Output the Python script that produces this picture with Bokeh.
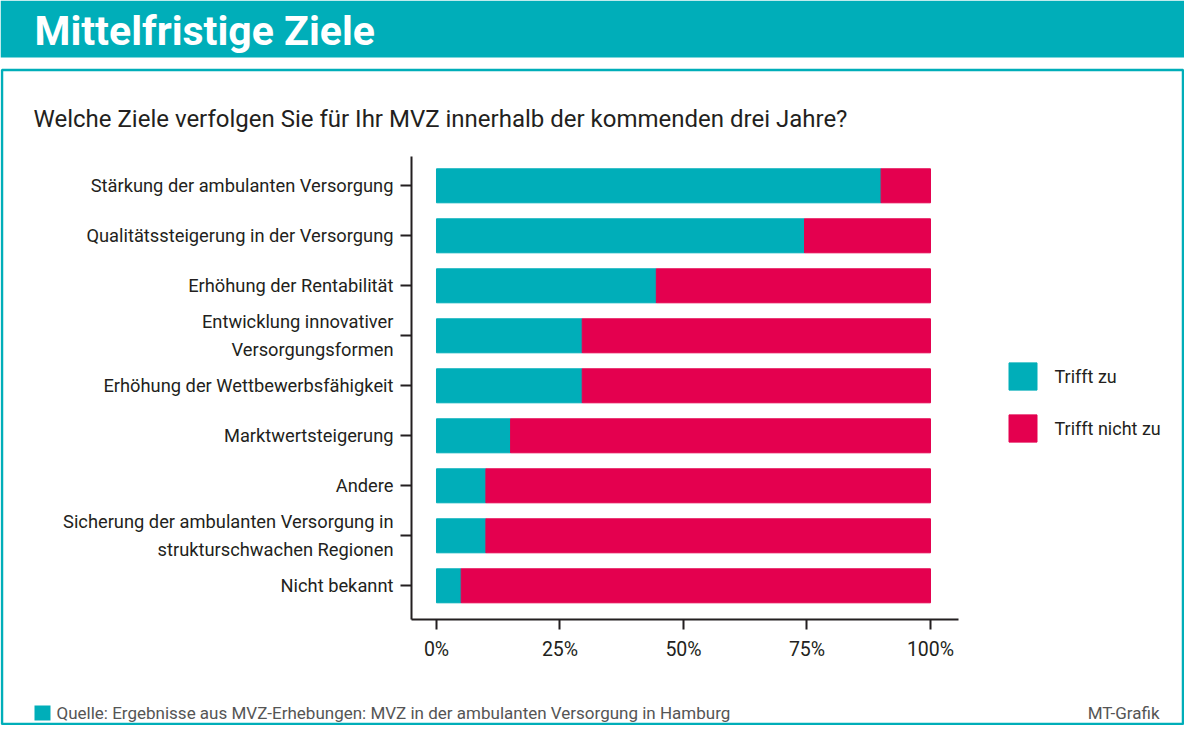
from bokeh.plotting import figure
from bokeh.models import (ColumnDataSource, Range1d, FixedTicker, LinearAxis,
                          NumeralTickFormatter, Legend, LegendItem, BoxAnnotation, Label)
from bokeh.embed import file_html
from bokeh.resources import INLINE

# ---- data ----
categories = [
    "Stärkung der ambulanten Versorgung",
    "Qualitätssteigerung in der Versorgung",
    "Erhöhung der Rentabilität",
    "Entwicklung innovativer\nVersorgungsformen",
    "Erhöhung der Wettbewerbsfähigkeit",
    "Marktwertsteigerung",
    "Andere",
    "Sicherung der ambulanten Versorgung in\nstrukturschwachen Regionen",
    "Nicht bekannt",
]
trifft_zu = [0.90, 0.745, 0.445, 0.295, 0.295, 0.15, 0.10, 0.10, 0.05]
trifft_nicht_zu = [0.10, 0.255, 0.555, 0.705, 0.705, 0.85, 0.90, 0.90, 0.95]
series_names = ["Trifft zu", "Trifft nicht zu"]
x_ticks = [0, 0.25, 0.5, 0.75, 1.0]

title_text = "Mittelfristige Ziele"
subtitle_text = "Welche Ziele verfolgen Sie für Ihr MVZ innerhalb der kommenden drei Jahre?"
source_text = "Quelle: Ergebnisse aus MVZ-Erhebungen: MVZ in der ambulanten Versorgung in Hamburg"
credit_text = "MT-Grafik"

# ---- style ----
TEAL = "#00aeb9"
RED = "#e4004f"
TEXT = "#231f20"
GREY = "#555555"
FONT = "Roboto"

W, H = 1184, 725

# category positions: first category on top
n = len(categories)
y_pos = [n - 1 - i for i in range(n)]
source = ColumnDataSource(dict(y=y_pos, zu=trifft_zu, nicht=trifft_nicht_zu))

p = figure(width=W, height=H,
           x_range=Range1d(-0.8826, 1.5142),
           y_range=Range1d(-2.794, 11.706),
           x_axis_location=None, y_axis_location=None,
           output_backend="svg", toolbar_location=None,
           min_border_left=0, min_border_right=0,
           min_border_top=0, min_border_bottom=0)
p.outline_line_color = None
p.grid.visible = False
p.background_fill_color = "white"
p.border_fill_color = "white"

def canvas_box(l, r, t, b, **kw):
    return BoxAnnotation(left=l, right=r, top=t, bottom=b,
                         left_units="canvas", right_units="canvas",
                         top_units="canvas", bottom_units="canvas", **kw)

# decorations
p.add_layout(canvas_box(0, W, 0, 57, fill_color=TEAL, fill_alpha=1,
                        line_color=None))
p.add_layout(canvas_box(1.5, 1182.5, 69.5, 723.5, fill_alpha=0, line_color=TEAL,
                        line_alpha=1, line_width=2.5))

renderers = p.hbar_stack(["zu", "nicht"], y="y", height=0.68,
                         color=[TEAL, RED], source=source)

# axes placed at fixed locations inside the canvas
xaxis = LinearAxis(fixed_location=-0.674, bounds=(-0.0506, 1.0567),
                   ticker=FixedTicker(ticks=x_ticks),
                   formatter=NumeralTickFormatter(format="0%"))
yaxis = LinearAxis(fixed_location=-0.0506, bounds=(-0.674, 8.586),
                   ticker=FixedTicker(ticks=y_pos),
                   major_label_overrides={y: c for y, c in zip(y_pos, categories)})
for ax in (xaxis, yaxis):
    ax.axis_line_color = TEXT
    ax.axis_line_width = 2
    ax.major_tick_line_color = TEXT
    ax.major_tick_line_width = 2
    ax.major_tick_in = 0
    ax.minor_tick_line_color = None
    ax.major_label_text_font = FONT
    ax.major_label_text_color = TEXT

xaxis.major_tick_out = 10
xaxis.major_label_standoff = 8
xaxis.major_label_text_font_size = "19.5px"

yaxis.major_tick_out = 11
yaxis.major_label_standoff = 7
yaxis.major_label_text_font_size = "18.3px"
yaxis.major_label_text_line_height = 1.35

p.add_layout(xaxis, "below")
p.add_layout(yaxis, "left")

# legend (legend glyphs are drawn inset by 10%)
legend = Legend(items=[LegendItem(label=series_names[0], renderers=[renderers[0]]),
                       LegendItem(label=series_names[1], renderers=[renderers[1]])],
                location=(1004.5, 280), glyph_width=35, glyph_height=34,
                label_standoff=15, spacing=18, padding=0, margin=0,
                border_line_color=None, background_fill_alpha=0,
                label_text_font=FONT, label_text_font_size="18px",
                label_text_color=TEXT)
p.add_layout(legend)

# titles
p.add_layout(Label(x=34, y=30, x_units="canvas", y_units="canvas", text=title_text,
                   text_font=FONT, text_font_style="bold",
                   text_font_size="41px", text_color="white",
                   text_baseline="alphabetic"))
p.add_layout(Label(x=33, y=118, x_units="canvas", y_units="canvas", text=subtitle_text,
                   text_font=FONT, text_font_size="24px", text_color=TEXT,
                   text_baseline="alphabetic"))

# footer
p.add_layout(canvas_box(34, 50, 705, 720, fill_color=TEAL, fill_alpha=1,
                        line_color=None))
p.add_layout(Label(x=56, y=712, x_units="canvas", y_units="canvas", text=source_text,
                   text_font=FONT, text_font_size="17px", text_color=GREY,
                   text_baseline="alphabetic"))
p.add_layout(Label(x=1159, y=712, x_units="canvas", y_units="canvas", text=credit_text,
                   text_font=FONT, text_font_size="17px", text_color=GREY,
                   text_align="right", text_baseline="alphabetic"))

open("out.html", "w").write(file_html(p, INLINE))
